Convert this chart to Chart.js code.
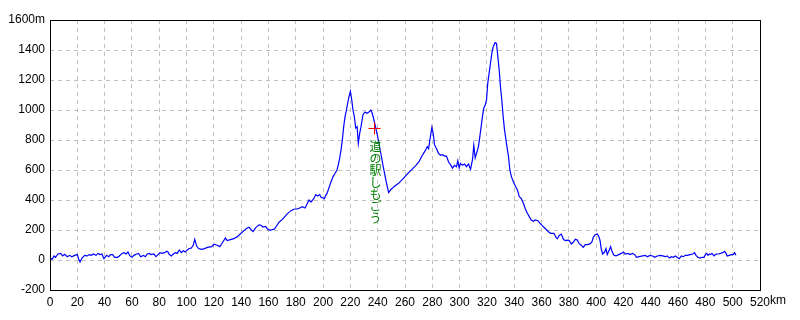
<!DOCTYPE html>
<html>
<head>
<meta charset="utf-8">
<script src="https://cdn.jsdelivr.net/npm/chart.js@4"></script>
<style>
  body { margin: 0; background: #fff; }
</style>
</head>
<body>
<canvas id="myChart" width="800" height="320"></canvas>
<script>
// elevation profile (km / m)
const distKm = [
  0, 1.5, 3, 4, 5.9, 7.8, 9.3, 10.7, 12.7, 14.4, 16, 18, 20, 21, 22, 23.4, 25.4, 27.3, 28.8, 30.3,
  31.7, 33.7, 35.2, 36.6, 38, 39.5, 41.5, 43, 44.4, 45.9, 47.4, 49.4, 50.8, 52.7, 54.2, 55.7, 57.1, 58.6, 60, 61.5,
  63.5, 64.9, 66.4, 68.4, 69.8, 71.3, 72.7, 74.2, 76.1, 77.6, 79.1, 80.5, 82, 84, 85.4, 86.4, 87.4, 88.9, 90.3, 91.8,
  93.2, 94.7, 96.2, 97.6, 99.1, 100.5, 102, 103.5, 104.9, 106, 107.4, 108.8, 110.8, 113.3, 115.2, 118.4, 120, 122.4, 124.4, 126,
  128.5, 129.7, 132.2, 134.6, 137, 139.5, 141.9, 143.9, 145.8, 147.3, 148.7, 150.7, 153.1, 154.5, 156, 158, 159.4, 161.4, 162.8, 164.3,
  165.8, 167.7, 170.2, 172.6, 174.5, 176.5, 179, 180.9, 182.9, 184.8, 186.8, 188.3, 189.7, 191.2, 193.2, 194.6, 196.1, 197.5, 198.5, 200,
  201, 201.9, 202.9, 204.4, 205.8, 207.3, 208.8, 210.2, 211.2, 212.2, 213.2, 214.1, 215.1, 216.1, 217.1, 218, 219, 220, 221, 221.9,
  222.9, 223.9, 224.9, 225.8, 226.8, 227.8, 229.2, 230.7, 232.1, 233.6, 235, 236, 237, 238.5, 239.7, 241.2, 242.6, 244, 245.5, 246.5,
  248, 249.4, 251.9, 255.3, 258.7, 262.1, 265.1, 268, 270.4, 272.4, 274.8, 276.3, 277.3, 278.2, 279.7, 280.7, 281.6, 283.1, 284.5, 286,
  287.5, 289, 290.4, 291.9, 293.3, 294.8, 296.2, 297.7, 298.7, 299.7, 300.6, 302.1, 303.6, 305, 306.5, 308, 309.4, 310.4, 311.4, 312.4,
  313.8, 314.8, 315.8, 316.7, 317.7, 318.7, 319.7, 320.6, 321.6, 322.6, 323.6, 324.6, 326, 327, 328, 329, 329.9, 330.9, 331.9, 332.9,
  334.3, 335.8, 336.8, 337.9, 339.4, 340.8, 342.3, 343.7, 345.2, 346.7, 348.1, 349.6, 351, 352.5, 354, 355.4, 357.4, 358.9, 360.3, 362.3,
  363.8, 365.2, 366.7, 369.1, 370.6, 371.5, 373, 374.5, 376, 377.4, 378.9, 380.4, 381.8, 383.3, 384.7, 386.2, 387.7, 389.1, 390.6, 392,
  393.5, 395.4, 396.9, 397.9, 399.3, 400.8, 401.8, 402.8, 403.7, 404.7, 406.2, 407.2, 408.1, 409.6, 410.6, 411.6, 413, 414.5, 416.5, 418.4,
  419.9, 421.3, 423.3, 424.8, 426.7, 428.2, 429.6, 431.6, 434, 436, 437.4, 439.4, 441.4, 442.9, 444.8, 446.8, 448.7, 450.7, 452.1, 453.6,
  455.1, 456.5, 458, 459.4, 460.9, 462.4, 463.8, 465.3, 466.8, 468.7, 470.7, 472.1, 473.1, 474.6, 476, 477.5, 479, 480, 480.9, 481.9,
  482.9, 483.9, 484.8, 486.3, 487.8, 489.7, 491.2, 492.6, 494.1, 495.1, 496, 497.5, 499, 500.4, 501.4, 502.4
];
const elevM = [
  15, 4, 27, 18, 40, 44, 27, 38, 22, 31, 22, 31, 36, 4, -13, 13, 31, 27, 36, 31,
  40, 31, 44, 36, 40, 9, 31, 22, 36, 36, 18, 18, 27, 44, 49, 40, 53, 27, 18, 31,
  40, 44, 22, 31, 22, 40, 44, 36, 40, 22, 36, 49, 44, 49, 58, 53, 36, 27, 40, 49,
  44, 67, 49, 62, 53, 67, 76, 80, 98, 138, 93, 76, 71, 76, 84, 89, 105, 98, 89, 112,
  147, 129, 136, 142, 154, 175, 194, 210, 218, 202, 189, 216, 234, 232, 220, 224, 205, 198, 203, 206,
  225, 252, 271, 296, 314, 329, 340, 340, 347, 356, 347, 373, 400, 387, 409, 436, 427, 436, 418, 413,
  409, 431, 444, 484, 520, 556, 578, 600, 636, 680, 738, 800, 889, 956, 1000, 1044, 1089, 1124, 1067, 1000,
  956, 880, 889, 778, 844, 889, 969, 987, 978, 987, 1000, 978, 942, 885, 835, 765, 695, 625, 556, 511,
  449, 467, 489, 511, 542, 578, 604, 631, 658, 693, 729, 756, 742, 800, 884, 840, 769, 742, 711, 698,
  702, 693, 693, 653, 636, 613, 631, 622, 662, 613, 644, 631, 640, 622, 640, 604, 667, 764, 680, 711,
  756, 822, 889, 956, 1013, 1031, 1067, 1178, 1244, 1311, 1378, 1422, 1449, 1444, 1356, 1267, 1156, 1067, 956, 867,
  778, 689, 600, 556, 520, 493, 467, 422, 409, 378, 342, 311, 289, 267, 258, 267, 262, 244, 231, 213,
  200, 187, 178, 178, 151, 142, 164, 173, 138, 129, 133, 129, 107, 120, 138, 133, 107, 98, 84, 102,
  102, 107, 120, 151, 169, 173, 160, 133, 76, 40, 53, 76, 36, 67, 89, 58, 31, 27, 36, 44,
  53, 40, 44, 36, 44, 36, 18, 22, 27, 31, 22, 31, 27, 18, 27, 31, 27, 22, 27, 13,
  22, 18, 27, 18, 9, 27, 22, 31, 31, 36, 40, 49, 31, 18, 13, 18, 18, 36, 44, 31,
  40, 36, 44, 27, 40, 40, 44, 49, 58, 44, 27, 31, 36, 36, 49, 31
];

// axis ranges
const xMin = 0, xMax = 520, xStep = 20;
const yMin = -200, yMax = 1600, yStep = 200;

// place marker
const markerKm = 237.5;
const markerM = 880;
const markerLabel = '道の駅しもごう';

const tickFont = '12px "Liberation Sans", Arial, sans-serif';

const framePlugin = {
  id: 'frame',
  afterDraw(chart) {
    const { ctx, chartArea: a, scales: { x, y } } = chart;
    ctx.save();
    // black box round the plot
    ctx.strokeStyle = '#000';
    ctx.lineWidth = 1;
    ctx.strokeRect(Math.round(a.left) + 0.5, Math.round(a.top) + 0.5,
      Math.round(a.right - a.left), Math.round(a.bottom - a.top));

    // red cross
    const px = Math.round(x.getPixelForValue(markerKm)) + 0.5;
    const py = Math.round(y.getPixelForValue(markerM)) + 0.5;
    ctx.strokeStyle = '#ff0000';
    ctx.beginPath();
    ctx.moveTo(px - 6, py); ctx.lineTo(px + 6, py);
    ctx.moveTo(px, py - 6); ctx.lineTo(px, py + 6);
    ctx.stroke();

    // vertical label
    ctx.fillStyle = '#008000';
    ctx.font = '12px "Noto Sans CJK JP"';
    ctx.textAlign = 'center';
    ctx.textBaseline = 'top';
    [...markerLabel].forEach((ch, i) => ctx.fillText(ch, px + 1, py + 12 + i * 12));

    // unit after last x tick
    ctx.fillStyle = '#000';
    ctx.font = tickFont;
    ctx.textAlign = 'left';
    ctx.textBaseline = 'middle';
    const w = ctx.measureText(String(xMax)).width;
    ctx.fillText('km', x.getPixelForValue(xMax) + w / 2, a.bottom + 11);
    ctx.restore();
  }
};

const ctx = document.getElementById('myChart');

new Chart(ctx, {
  type: 'line',
  data: {
    datasets: [{
      data: distKm.map((d, i) => ({ x: d, y: elevM[i] })),
      borderColor: '#0000ff',
      borderWidth: 1.2,
      pointRadius: 0,
      tension: 0,
      fill: false
    }]
  },
  options: {
    responsive: false,
    animation: false,
    layout: { padding: { top: 20, right: 40, left: 0, bottom: 0 } },
    plugins: { legend: { display: false }, tooltip: { enabled: false } },
    scales: {
      x: {
        type: 'linear',
        min: xMin, max: xMax,
        afterFit: s => { s.height = 30; },
        ticks: {
          stepSize: xStep,
          color: '#000',
          padding: 5,
          maxRotation: 0,
          autoSkip: false,
          font: { family: '"Liberation Sans", Arial, sans-serif', size: 12 }
        },
        grid: { color: '#c0c0c0', drawTicks: false },
        border: { display: false, dash: [4, 4] }
      },
      y: {
        min: yMin, max: yMax,
        afterFit: s => { s.width = 50; },
        ticks: {
          stepSize: yStep,
          color: '#000',
          padding: 5,
          font: { family: '"Liberation Sans", Arial, sans-serif', size: 12 },
          callback: v => v === yMax ? v + 'm' : v
        },
        grid: { color: '#c0c0c0', drawTicks: false },
        border: { display: false, dash: [4, 4] }
      }
    }
  },
  plugins: [framePlugin]
});
</script>
</body>
</html>
